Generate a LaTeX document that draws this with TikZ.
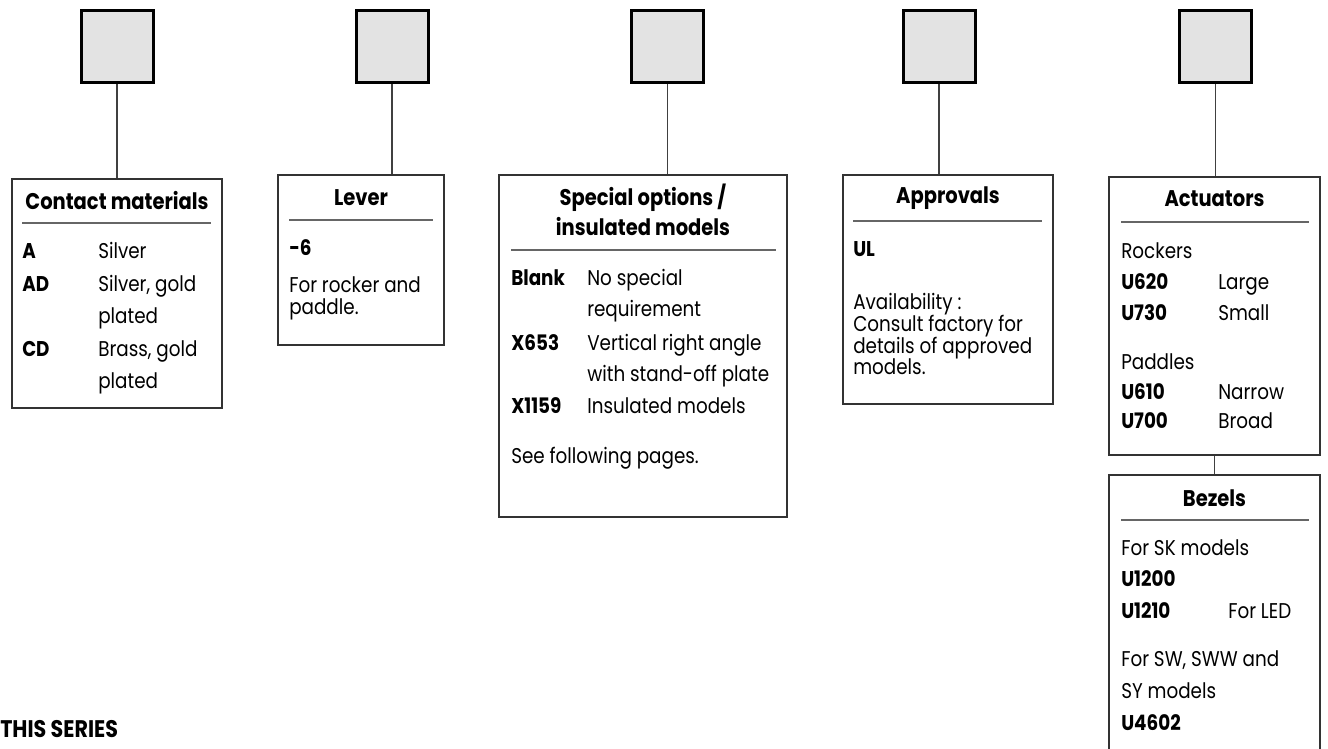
\documentclass[tikz,border=0pt]{standalone}
\usepackage{fontspec}
\setmainfont{Poppins}[FakeStretch=0.86]
\usetikzlibrary{fit}
\definecolor{sqfill}{HTML}{E3E3E3}
\newcommand{\bodyf}{\fontsize{16}{19}\selectfont}
\newcommand{\ttlf}{\fontsize{17}{20}\selectfont\bfseries}
\newcommand{\headf}{\fontsize{18}{21}\selectfont\bfseries}
\tikzset{
  sq/.style={draw=black, line width=2.25pt, fill=sqfill, minimum size=54pt, inner sep=0pt},
  infobox/.style={draw=black!80, line width=0.8pt, inner sep=0pt},
  rulel/.style={draw=black!60, line width=0.8pt},
  conn/.style={draw=black!75, line width=0.8pt},
  txt/.style={anchor=base west, inner sep=0pt, font=\bodyf},
  code/.style={anchor=base west, inner sep=0pt, font=\bodyf\bfseries},
  ttl/.style={anchor=base, inner sep=0pt, font=\ttlf},
}
\begin{document}
\begin{tikzpicture}[x=0.75pt,y=-0.75pt]
\useasboundingbox (0,0) rectangle (1328,749);
\fill[white] (0,0) rectangle (1328,749);

% squares
\node[sq] (s1) at (117,46.5) {};
\node[sq] (s2) at (392,46.5) {};
\node[sq] (s3) at (667.5,46.5) {};
\node[sq] (s4) at (939,46.5) {};
\node[sq] (s5) at (1215.5,46.5) {};

% boxes
\node[infobox, fit={(12,179) (222,408)}] (b1) {};
\node[infobox, fit={(278,175) (444,345)}] (b2) {};
\node[infobox, fit={(499,175) (787,517)}] (b3) {};
\node[infobox, fit={(843,175) (1053,404)}] (b4) {};
\node[infobox, fit={(1109,177) (1320,455)}] (b5) {};
\node[infobox, fit={(1109,475) (1320,770)}] (b6) {};

% connectors
\draw[conn] (s1.south) -- (s1.south |- b1.north);
\draw[conn] (s2.south) -- (s2.south |- b2.north);
\draw[conn] (s3.south) -- (s3.south |- b3.north);
\draw[conn] (s4.south) -- (s4.south |- b4.north);
\draw[conn] (s5.south) -- (s5.south |- b5.north);
\draw[conn] (b5.south) -- (b6.north);

% Box 1: Contact materials
\node[ttl] (t1) at (117,209) {Contact materials};
\draw[rulel] (22,223) -- (211,223);
\node[code] (c1a) at (22,258) {A};
\node[txt] (d1a) at (98,258) {Silver};
\node[code] (c1b) at (22,291) {AD};
\node[txt] (d1b) at (98,291) {Silver, gold};
\node[txt] (d1c) at (98,323) {plated};
\node[code] (c1d) at (22,356) {CD};
\node[txt] (d1d) at (98,356) {Brass, gold};
\node[txt] (d1e) at (98,388) {plated};

% Box 2: Lever
\node[ttl] (t2) at (361,205) {Lever};
\draw[rulel] (289,220) -- (433,220);
\node[code] (c2a) at (289,255) {-6};
\node[txt] (d2a) at (289,292) {For rocker and};
\node[txt] (d2b) at (289,314) {paddle.};

% Box 3: Special options
\node[ttl] (t3a) at (643,205) {Special options /};
\node[ttl] (t3b) at (643,235) {insulated models};
\draw[rulel] (511,250) -- (776,250);
\node[code] (c3a) at (511,285) {Blank};
\node[txt] (d3a) at (587,285) {No special};
\node[txt] (d3b) at (587,316) {requirement};
\node[code] (c3c) at (511,350) {X653};
\node[txt] (d3c) at (587,350) {Vertical right angle};
\node[txt] (d3d) at (587,381) {with stand-off plate};
\node[code] (c3e) at (511,413) {X1159};
\node[txt] (d3e) at (587,413) {Insulated models};
\node[txt] (d3f) at (511,463) {See following pages.};

% Box 4: Approvals
\node[ttl] (t4) at (948,203) {Approvals};
\draw[rulel] (853,221) -- (1042,221);
\node[code] (c4a) at (853,256) {UL};
\node[txt] (d4a) at (853,309) {Availability :};
\node[txt] (d4b) at (853,331) {Consult factory for};
\node[txt] (d4c) at (853,353) {details of approved};
\node[txt] (d4d) at (853,374) {models.};

% Box 5: Actuators
\node[ttl] (t5) at (1214.5,206) {Actuators};
\draw[rulel] (1121,222) -- (1309,222);
\node[txt] (d5a) at (1121,258) {Rockers};
\node[code] (c5b) at (1121,289) {U620};
\node[txt] (d5b) at (1218,289) {Large};
\node[code] (c5c) at (1121,320) {U730};
\node[txt] (d5c) at (1218,320) {Small};
\node[txt] (d5d) at (1121,369) {Paddles};
\node[code] (c5e) at (1121,399) {U610};
\node[txt] (d5e) at (1218,399) {Narrow};
\node[code] (c5f) at (1121,428) {U700};
\node[txt] (d5f) at (1218,428) {Broad};

% Box 6: Bezels
\node[ttl] (t6) at (1214.5,506) {Bezels};
\draw[rulel] (1121,520) -- (1309,520);
\node[txt] (d6a) at (1121,555) {For SK models};
\node[code] (c6b) at (1121,586) {U1200};
\node[code] (c6c) at (1121,618) {U1210};
\node[txt] (d6c) at (1228,618) {For LED};
\node[txt] (d6d) at (1121,666) {For SW, SWW and};
\node[txt] (d6e) at (1121,698) {SY models};
\node[code] (c6f) at (1121,730) {U4602};

% bottom-left heading fragment
\node[anchor=base west, inner sep=0pt, font=\headf] (h1) at (0,737) {THIS SERIES};
\end{tikzpicture}
\end{document}
